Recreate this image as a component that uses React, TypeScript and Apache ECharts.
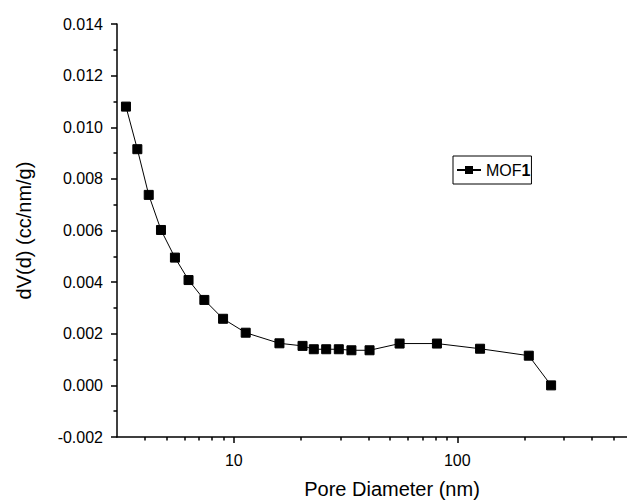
import React, { useEffect, useRef } from "react";
import * as echarts from "echarts";

const poreDiameter = [3.29, 3.70, 4.16, 4.72, 5.45, 6.27, 7.38, 8.95, 11.3, 16.0, 20.3, 22.8, 25.9, 29.5, 33.6, 40.5, 55.2, 81.1, 126.5, 209, 263];
const dVd = [0.0108, 0.00915, 0.00738, 0.00602, 0.00495, 0.00408, 0.00331, 0.00258, 0.00204, 0.00163, 0.00153, 0.0014, 0.0014, 0.0014, 0.00136, 0.00136, 0.00162, 0.00162, 0.00142, 0.00115, 0.0];
const majorXTicks = [10, 100];
const minorXTicks = [4, 5, 6, 7, 8, 9, 20, 30, 40, 50, 60, 70, 80, 90, 200, 300, 400, 500];
const seriesName = "MOF1";

export default function App() {
  const ref = useRef<HTMLDivElement>(null);
  useEffect(() => {
    if (!ref.current) return;
    const chart = echarts.init(ref.current, undefined, { renderer: "svg" });
    const font = "'Liberation Sans', Arial, sans-serif";
    const black = "#000";
    const common = {
      type: "log" as const,
      logBase: 10,
      min: 3,
      max: 575,
      position: "bottom" as const,
      gridIndex: 0,
      splitLine: { show: false },
    };
    chart.setOption({
      animation: false,
      backgroundColor: "#fff",
      textStyle: { fontFamily: font },
      grid: { left: 117, right: 0, top: 24, bottom: 66, containLabel: false, outerBoundsMode: "none" },
      legend: {
        data: [seriesName],
        left: 453,
        top: 156,
        orient: "vertical",
        borderColor: black,
        borderWidth: 1,
        borderRadius: 0,
        padding: [5, 1, 5, 3],
        itemWidth: 24,
        itemHeight: 10,
        itemGap: 0,
        formatter: () => "MOF{b|1}",
        textStyle: {
          fontFamily: font,
          fontSize: 16,
          lineHeight: 18,
          color: black,
          rich: { b: { fontWeight: "bold", fontSize: 16, lineHeight: 18, fontFamily: font, color: black } },
        },
      },
      xAxis: [
        {
          ...common,
          name: "Pore Diameter (nm)",
          nameLocation: "middle",
          nameGap: 42,
          nameTextStyle: { fontFamily: font, fontSize: 20, color: black, padding: [0, 0, 0, 40] },
          axisLine: { show: true, onZero: false, lineStyle: { color: black, width: 1.5 } },
          axisTick: { show: true, inside: false, length: 6, customValues: majorXTicks, lineStyle: { color: black, width: 1.5 } },
          axisLabel: { show: true, customValues: majorXTicks, fontFamily: font, fontSize: 16, color: black, margin: 15, formatter: (v: number) => String(v) },
          minorTick: { show: false },
        },
        {
          ...common,
          axisLine: { show: false, onZero: false },
          axisTick: { show: true, inside: false, length: 3.5, customValues: minorXTicks, lineStyle: { color: black, width: 1.5 } },
          axisLabel: { show: false },
          minorTick: { show: false },
        },
      ],
      yAxis: {
        type: "value",
        min: -0.002,
        max: 0.014,
        interval: 0.002,
        name: "dV(d) (cc/nm/g)",
        nameLocation: "middle",
        nameGap: 83,
        nameRotate: 90,
        nameTextStyle: { fontFamily: font, fontSize: 20, color: black },
        axisLine: { show: true, onZero: false, lineStyle: { color: black, width: 1.5 } },
        axisTick: { show: true, inside: false, length: 6, lineStyle: { color: black, width: 1.5 } },
        minorTick: { show: true, splitNumber: 2, length: 3.5, lineStyle: { color: black, width: 1.5 } },
        axisLabel: { fontFamily: font, fontSize: 16, color: black, margin: 14, formatter: (v: number) => v.toFixed(3) },
        splitLine: { show: false },
        minorSplitLine: { show: false },
      },
      series: [
        {
          name: seriesName,
          type: "line",
          xAxisIndex: 0,
          data: poreDiameter.map((d, i) => [d, dVd[i]]),
          symbol: "rect",
          symbolSize: 9,
          showSymbol: true,
          lineStyle: { color: black, width: 1 },
          itemStyle: { color: black, borderColor: black },
          emphasis: { disabled: true },
        },
      ],
    });
    return () => chart.dispose();
  }, []);
  return <div ref={ref} style={{ position: "fixed", left: 0, top: 0, width: 627, height: 503 }} />;
}
